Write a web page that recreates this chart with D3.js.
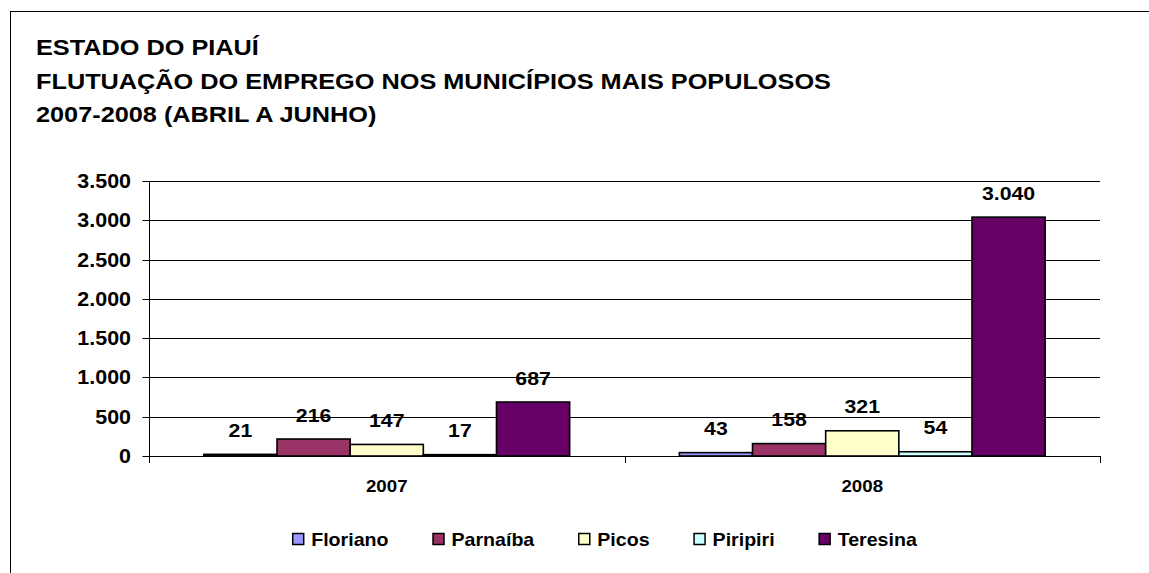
<!DOCTYPE html>
<html><head><meta charset="utf-8">
<script src="https://cdn.jsdelivr.net/npm/d3@7"></script>
<style>html,body{margin:0;padding:0;background:#fff;}svg{display:block;}</style>
</head><body>
<script>
const titleLines = ["ESTADO DO PIAUÍ","FLUTUAÇÃO DO EMPREGO NOS MUNICÍPIOS MAIS POPULOSOS","2007-2008 (ABRIL A JUNHO)"];
const categories = ["2007","2008"];
const seriesNames = ["Floriano","Parnaíba","Picos","Piripiri","Teresina"];
const seriesColors = ["#9999FF","#993366","#FFFFCC","#CCFFFF","#660066"];
const values2007 = [21,216,147,17,687];
const values2008 = [43,158,321,54,3040];
const yTicks = [0,500,1000,1500,2000,2500,3000,3500];

(function(){
const W=1149,H=573;
const svg=d3.select("body").append("svg").attr("width",W).attr("height",H);
const font="'Liberation Sans', Arial, sans-serif";
const loc=d3.formatLocale({decimal:",",thousands:".",grouping:[3],currency:["R$",""]});
const fmt=loc.format(",d");

svg.append("rect").attr("x",10.5).attr("y",11.5).attr("width",W+20).attr("height",H+20)
  .attr("fill","none").attr("stroke","#000").attr("stroke-width",1);

function stext(g,x,y,str,size,sx,anchor){
  return g.append("text").attr("transform",`translate(${x},${y}) scale(${sx},1)`)
    .attr("font-family",font).attr("font-weight","bold").attr("font-size",size)
    .attr("text-anchor",anchor||"start").attr("fill","#000").text(str);
}

titleLines.forEach((t,i)=>stext(svg,36,55+i*33.5,t,22,1.15,"start"));

const pL=149,pR=1100,pT=181,pB=456;
const y=d3.scaleLinear().domain([0,3500]).range([pB,pT]);
const x0=d3.scaleBand().domain(categories).range([pL,pR]).paddingInner(0).paddingOuter(0);
const x1=d3.scaleBand().domain(seriesNames).range([0,x0.bandwidth()]).paddingInner(0).paddingOuter(0.75);
const data=[values2007,values2008];

svg.append("g").selectAll("line").data(yTicks.filter(d=>d>0)).join("line")
  .attr("x1",pL).attr("x2",pR).attr("y1",d=>Math.round(y(d))+0.5).attr("y2",d=>Math.round(y(d))+0.5)
  .attr("stroke","#000").attr("stroke-width",1);

const yAxis=d3.axisLeft(y).tickValues(yTicks).tickSize(7).tickFormat(()=>"");
const ya=svg.append("g").attr("transform",`translate(${pL+0.5},0)`).call(yAxis);
ya.select(".domain").attr("stroke","#000").attr("d",`M0,${pT}V${pB+7}`);
ya.selectAll(".tick").attr("transform",d=>`translate(0,${Math.round(y(d))+0.5})`);
ya.selectAll(".tick line").attr("stroke","#000");
yTicks.forEach(t=>stext(svg,131,y(t)+7,fmt(t),19.5,1.1,"end"));

const xa=svg.append("g").attr("transform",`translate(0,${pB+0.5})`)
  .call(d3.axisBottom(x0).tickSize(0).tickFormat(""));
xa.select(".domain").attr("stroke","#000").attr("d",`M${pL},0H${pR}`);
const bounds=[pL,x0("2008"),pR];
svg.append("g").selectAll("line").data(bounds).join("line")
  .attr("x1",d=>Math.round(d)+0.5).attr("x2",d=>Math.round(d)+0.5).attr("y1",pB).attr("y2",pB+7)
  .attr("stroke","#000");
categories.forEach(c=>stext(svg,x0(c)+x0.bandwidth()/2,492,c,17,1.1,"middle"));

categories.forEach((c,ci)=>{
  const g=svg.append("g").attr("transform",`translate(${x0(c)},0)`);
  g.selectAll("rect").data(data[ci]).join("rect")
    .attr("x",(d,i)=>x1(seriesNames[i])).attr("width",x1.bandwidth())
    .attr("y",d=>y(d)).attr("height",d=>pB-y(d))
    .attr("fill",(d,i)=>seriesColors[i]).attr("stroke","#000").attr("stroke-width",1.6);
  data[ci].forEach((v,i)=>stext(g,x1(seriesNames[i])+x1.bandwidth()/2,y(v)-17.5,fmt(v),19,1.12,"middle"));
});

const leg=svg.append("g");
const lsx=1.06, lsize=18.5, gap=44, boxW=12, boxGap=7;
const items=seriesNames.map((n,i)=>{
  const t=stext(leg,0,546,n,lsize,lsx,"start");
  const w=t.node().getComputedTextLength()*lsx;
  return {t,w,i};
});
const total=d3.sum(items,d=>boxW+boxGap+d.w)+gap*(items.length-1);
let cx=604.5-total/2;
items.forEach(d=>{
  leg.append("rect").attr("x",cx+0.5).attr("y",533.5).attr("width",boxW-1).attr("height",boxW-1)
    .attr("fill",seriesColors[d.i]).attr("stroke","#000").attr("stroke-width",1.5);
  d.t.attr("transform",`translate(${cx+boxW+boxGap},546) scale(${lsx},1)`);
  cx+=boxW+boxGap+d.w+gap;
});
})();
</script>
</body></html>
